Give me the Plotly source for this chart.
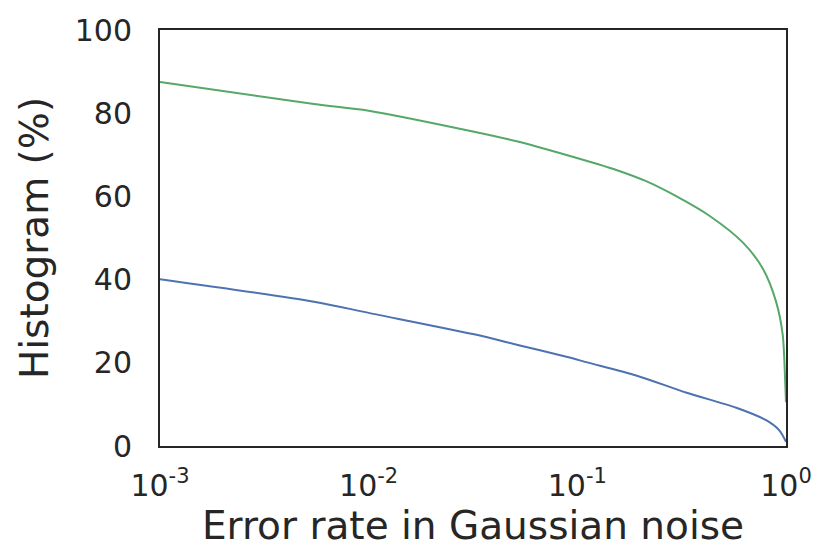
import plotly.graph_objects as go

# Error rate (x, log scale) and histogram percentage (y)
green_x = [0.001, 0.00547, 0.01, 0.0316, 0.0518, 0.0896, 0.155, 0.215, 0.299, 0.431, 0.622, 0.775, 0.896, 0.964, 0.992, 1.0]
green_y = [87.5, 82.2, 80.6, 75.6, 73.2, 69.9, 66.3, 63.6, 60.0, 55.3, 48.9, 42.6, 34.7, 26.8, 15.0, 10.5]

blue_x = [0.001, 0.00547, 0.01, 0.0316, 0.0518, 0.0896, 0.1116, 0.193, 0.334, 0.578, 0.803, 0.927, 1.0]
blue_y = [40.1, 34.7, 32.0, 26.9, 24.3, 21.4, 20.1, 16.9, 12.8, 9.2, 6.2, 3.8, 1.0]

x_tickvals = [0.001, 0.01, 0.1, 1.0]
x_ticktext = ["10<sup>-3</sup>", "10<sup>-2</sup>", "10<sup>-1</sup>", "10<sup>0</sup>"]
y_tickvals = [0, 20, 40, 60, 80, 100]

fig = go.Figure()
fig.add_trace(go.Scatter(x=green_x, y=green_y, mode="lines",
                         line=dict(color="#55a868", width=2, shape="spline", smoothing=0.8),
                         showlegend=False))
fig.add_trace(go.Scatter(x=blue_x, y=blue_y, mode="lines",
                         line=dict(color="#4c72b0", width=2, shape="spline", smoothing=0.8),
                         showlegend=False))

font_color = "#262626"
fig.update_layout(
    width=824, height=558,
    margin=dict(l=160, r=34, t=25, b=112),
    paper_bgcolor="white", plot_bgcolor="white",
    font=dict(family="DejaVu Sans", color=font_color),
)
fig.update_xaxes(
    type="log", range=[-3, 0],
    tickvals=x_tickvals, ticktext=x_ticktext,
    tickfont=dict(size=30, color=font_color),
    showgrid=False, zeroline=False,
    showline=True, mirror=True, linecolor=font_color, linewidth=2,
    ticks="", ticklabelstandoff=12,
    title=dict(text="Error rate in Gaussian noise", font=dict(size=39, color=font_color), standoff=8),
)
fig.update_yaxes(
    range=[0, 100],
    tickvals=y_tickvals,
    tickfont=dict(size=30, color=font_color),
    showgrid=False, zeroline=False,
    showline=True, mirror=True, linecolor=font_color, linewidth=2,
    ticks="", ticklabelstandoff=20,
    title=dict(text="Histogram (%)", font=dict(size=39, color=font_color), standoff=14),
)

fig.write_html("out.html")
